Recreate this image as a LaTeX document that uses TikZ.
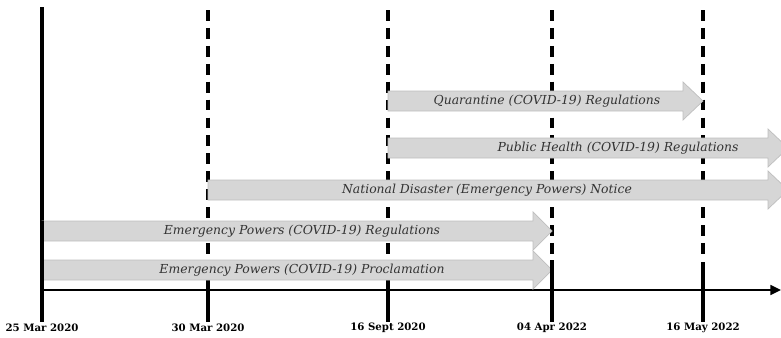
\documentclass[tikz,border=0pt]{standalone}
\usepackage{fontspec}
\setmainfont{DejaVu Serif}
\usepackage{tikz}
\usetikzlibrary{arrows.meta}

\begin{document}
\begin{tikzpicture}[x=0.02cm, y=-0.02cm,
    period/.style={draw=gray!50, fill=gray!32, line width=0.4pt},
    law/.style={font=\fontsize{7.05}{9}\selectfont\itshape, text=black!80},
    date/.style={font=\fontsize{5.8}{7}\selectfont\bfseries},
    dateline/.style={line width=2pt},
    future/.style={line width=2pt, dash pattern=on 6.2pt off 4pt}]
    \useasboundingbox (0,0) rectangle (781,338);

    % Datas
    \draw[dateline] (42,7) -- (42,322);
    \draw[future] (208,10) -- (208,260);
    \draw[dateline] (208,260) -- (208,322);
    \draw[future] (388,10) -- (388,260);
    \draw[dateline] (388,260) -- (388,322);
    \draw[future] (552,10) -- (552,260);
    \draw[future] (703,10) -- (703,260);
    \draw[dateline] (703,262) -- (703,322);

    % Eixo
    \draw[line width=1.4pt, -{Triangle[length=6pt, width=5.5pt]}] (42,290) -- (781,290);

    % Instrumentos
    \draw[period] (388,91) -- (683,91) -- (683,82) -- (703,101) -- (683,120) -- (683,111) -- (388,111) -- cycle;
    \node[law] (quarantine) at (547,101) {Quarantine (COVID-19) Regulations};

    \draw[period] (388,138) -- (768,138) -- (768,129) -- (788,148) -- (768,167) -- (768,158) -- (388,158) -- cycle;
    \node[law] (health) at (618,148) {Public Health (COVID-19) Regulations};

    \draw[period] (208,180) -- (768,180) -- (768,171) -- (788,190) -- (768,209) -- (768,200) -- (208,200) -- cycle;
    \node[law] (disaster) at (487,190) {National Disaster (Emergency Powers) Notice};

    \draw[period] (42,221) -- (533,221) -- (533,212) -- (552,231) -- (533,250) -- (533,241) -- (42,241) -- cycle;
    \node[law] (regulations) at (302,231) {Emergency Powers (COVID-19) Regulations};

    \draw[period] (42,260) -- (533,260) -- (533,251) -- (552,270) -- (533,289) -- (533,280) -- (42,280) -- cycle;
    \node[law] (proclamation) at (302,270) {Emergency Powers (COVID-19) Proclamation};

    \draw[dateline] (552,260) -- (552,322);
    \draw[dateline] (42,221) -- (42,290);

    % Rotulos
    \node[date] (mar25) at (42,328) {25 Mar 2020};
    \node[date] (mar30) at (208,328) {30 Mar 2020};
    \node[date] (sep16) at (388,328) {16 Sept 2020};
    \node[date] (apr04) at (552,328) {04 Apr 2022};
    \node[date] (may16) at (703,328) {16 May 2022};
\end{tikzpicture}
\end{document}
